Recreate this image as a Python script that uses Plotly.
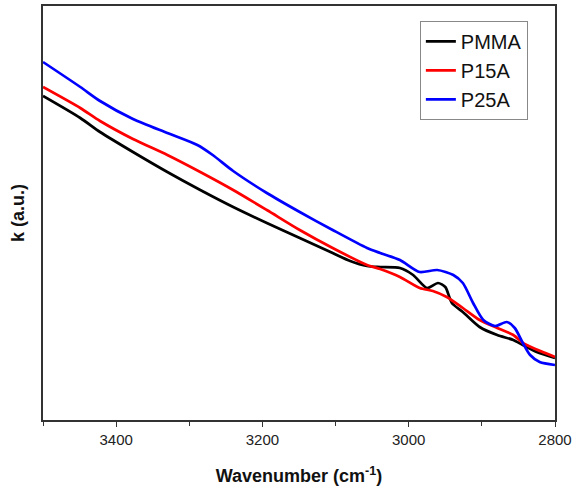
import plotly.graph_objects as go

# Wavenumber (cm^-1) and k (a.u.)
pmma_x = [3500, 3449, 3422, 3377, 3330, 3285, 3240, 3194, 3149, 3104, 3080, 3057, 3039, 3012,
          2994, 2975, 2960, 2950, 2941, 2926, 2903, 2879, 2857, 2844, 2825, 2800]
pmma_y = [3.24, 3.02, 2.88, 2.68, 2.48, 2.30, 2.13, 1.97, 1.82, 1.67, 1.59, 1.54, 1.53, 1.52,
          1.45, 1.32, 1.37, 1.33, 1.17, 1.08, 0.93, 0.85, 0.80, 0.75, 0.68, 0.62]

p15a_x = [3500, 3449, 3422, 3377, 3330, 3285, 3240, 3194, 3149, 3104, 3057, 3039, 3012,
          2985, 2967, 2948, 2926, 2903, 2879, 2857, 2844, 2830, 2800]
p15a_y = [3.33, 3.12, 2.99, 2.81, 2.65, 2.48, 2.30, 2.10, 1.90, 1.72, 1.55, 1.51, 1.43,
          1.32, 1.29, 1.23, 1.12, 1.00, 0.92, 0.85, 0.77, 0.72, 0.63]

p25a_x = [3500, 3449, 3422, 3377, 3330, 3289, 3268, 3240, 3194, 3149, 3104, 3057, 3039, 3012,
          2985, 2961, 2939, 2926, 2912, 2898, 2882, 2866, 2855, 2844, 2834, 2821, 2800]
p25a_y = [3.58, 3.33, 3.19, 3.01, 2.87, 2.75, 2.65, 2.49, 2.27, 2.08, 1.90, 1.72, 1.67, 1.60,
          1.48, 1.50, 1.45, 1.37, 1.17, 1.00, 0.94, 0.98, 0.92, 0.77, 0.65, 0.58, 0.55]

series_names = ["PMMA", "P15A", "P25A"]
series_colors = ["#000000", "#ff0000", "#0000ff"]
x_ticks = [3400, 3200, 3000, 2800]
x_minor_ticks = [3500, 3300, 3100, 2900]

fig = go.Figure()
for name, xs, ys, col in zip(series_names, [pmma_x, p15a_x, p25a_x],
                             [pmma_y, p15a_y, p25a_y], series_colors):
    fig.add_trace(go.Scatter(x=xs, y=ys, name=name, mode="lines",
                             line=dict(color=col, width=2.7, shape="spline", smoothing=0.7)))

font_family = "Arial, 'Liberation Sans', sans-serif"
fig.update_layout(
    width=573, height=489,
    margin=dict(l=43, r=18, t=6, b=69),
    paper_bgcolor="white", plot_bgcolor="white",
    font=dict(family=font_family, color="#111"),
    showlegend=True,
    legend=dict(x=0.947, y=0.964, xanchor="right", yanchor="top",
                bordercolor="#888", borderwidth=1, bgcolor="white",
                font=dict(size=20, family=font_family, color="#111"),
                tracegroupgap=0, itemwidth=30),
    xaxis=dict(range=[3500, 2800], tickvals=x_ticks, ticks="outside", ticklen=5,
               tickwidth=1.2, tickcolor="#333", automargin=False,
               minor=dict(tickvals=x_minor_ticks, ticks="outside", ticklen=4,
                          tickcolor="#333", tickwidth=1.2),
               showline=True, linecolor="#333", linewidth=1.5, mirror=True,
               showgrid=False, zeroline=False,
               tickfont=dict(size=15, color="#222"),
               title=dict(text="<b>Wavenumber (cm<sup>-1</sup>)</b>", font=dict(size=18, color="#111"),
                          standoff=23)),
    yaxis=dict(range=[0, 4.14], showticklabels=False, ticks="", automargin=False,
               showline=True, linecolor="#333", linewidth=1.5, mirror=True,
               showgrid=False, zeroline=False,
               title=dict(text="<b>k (a.u.)</b>", font=dict(size=18, color="#111"), standoff=12)),
)

fig.write_html("out.html", config={"displayModeBar": False},
               post_script="document.body.style.margin='0px';")
